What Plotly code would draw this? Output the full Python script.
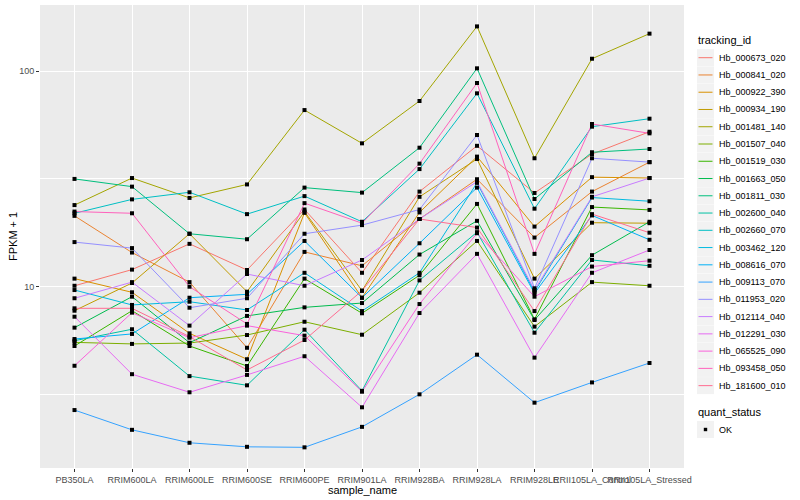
import plotly.graph_objects as go

samples = ["PB350LA", "RRIM600LA", "RRIM600LE", "RRIM600SE", "RRIM600PE", "RRIM901LA",
           "RRIM928BA", "RRIM928LA", "RRIM928LE", "RRII105LA_Control", "RRII105LA_Stressed"]

tracking_ids = ["Hb_000673_020", "Hb_000841_020", "Hb_000922_390", "Hb_000934_190",
                "Hb_001481_140", "Hb_001507_040", "Hb_001519_030", "Hb_001663_050",
                "Hb_001811_030", "Hb_002600_040", "Hb_002660_070", "Hb_003462_120",
                "Hb_008616_070", "Hb_009113_070", "Hb_011953_020", "Hb_012114_040",
                "Hb_012291_030", "Hb_065525_090", "Hb_093458_050", "Hb_181600_010"]

colors = ["#F8766D", "#EA8331", "#D89000", "#C09B00", "#A3A500", "#7CAE00", "#39B600",
          "#00BB4E", "#00BF7D", "#00C1A3", "#00BFC4", "#00BAE0", "#00B0F6", "#35A2FF",
          "#9590FF", "#C77CFF", "#E76BF3", "#FA62DB", "#FF62BC", "#FF6C91"]

# FPKM + 1 per sample (same order as samples)
hb_000673_020 = [10.1, 12.0, 15.8, 11.95, 22.8, 11.6, 27.6, 45.0, 27.2, 41.2, 52.3]
hb_000841_020 = [21.3, 14.4, 10.5, 5.21, 14.5, 12.5, 20.6, 31.5, 16.9, 27.6, 37.8]
hb_000922_390 = [10.9, 9.42, 6.08, 4.61, 22.0, 8.89, 22.1, 40.1, 19.0, 32.2, 31.9]
hb_000934_190 = [7.74, 10.4, 17.6, 9.48, 22.3, 9.58, 26.1, 39.1, 10.9, 19.8, 19.7]
hb_001481_140 = [23.9, 31.9, 25.8, 29.8, 65.9, 46.2, 72.6, 161.0, 39.4, 114.0, 149.0]
hb_001507_040 = [5.52, 5.43, 5.48, 5.97, 6.88, 5.99, 9.38, 16.3, 6.53, 10.5, 10.1]
hb_001519_030 = [5.31, 7.74, 5.31, 4.29, 10.9, 7.53, 11.3, 24.2, 7.06, 23.4, 22.7]
hb_001663_050 = [6.46, 8.99, 5.50, 7.32, 8.02, 8.40, 14.1, 20.2, 7.01, 14.0, 20.0]
hb_001811_030 = [31.6, 29.1, 17.6, 16.6, 28.8, 27.3, 44.1, 102.9, 25.5, 42.0, 43.5]
hb_002600_040 = [5.62, 6.35, 3.85, 3.49, 6.32, 3.29, 10.7, 17.9, 6.12, 13.3, 12.5]
hb_002660_070 = [21.9, 25.4, 27.4, 21.7, 26.3, 20.0, 35.1, 78.8, 23.0, 55.2, 60.1]
hb_003462_120 = [9.65, 8.23, 8.52, 7.80, 11.6, 7.71, 11.6, 30.3, 9.48, 25.9, 24.9]
hb_008616_070 = [5.72, 6.04, 8.89, 9.22, 16.3, 8.89, 15.9, 28.8, 9.32, 21.4, 16.5]
hb_009113_070 = [2.68, 2.17, 1.89, 1.81, 1.80, 2.24, 3.17, 4.84, 2.90, 3.60, 4.43]
hb_011953_020 = [16.1, 15.1, 7.99, 8.84, 17.6, 19.3, 22.8, 50.5, 9.83, 39.4, 37.8]
hb_012114_040 = [8.84, 10.5, 6.60, 11.45, 10.1, 13.3, 20.6, 30.7, 9.65, 26.1, 31.9]
hb_012291_030 = [7.26, 3.93, 3.24, 3.90, 4.76, 2.76, 7.55, 14.2, 4.69, 11.6, 14.8]
hb_065525_090 = [4.30, 7.58, 5.80, 6.60, 5.93, 3.26, 8.31, 17.7, 8.99, 12.4, 13.2]
hb_093458_050 = [22.3, 21.9, 10.0, 6.72, 24.4, 19.7, 37.2, 88.0, 14.2, 56.8, 51.4]
hb_181600_010 = [7.94, 7.94, 5.87, 4.11, 5.66, 9.58, 20.6, 18.8, 7.71, 21.7, 17.8]

series = [hb_000673_020, hb_000841_020, hb_000922_390, hb_000934_190, hb_001481_140,
          hb_001507_040, hb_001519_030, hb_001663_050, hb_001811_030, hb_002600_040,
          hb_002660_070, hb_003462_120, hb_008616_070, hb_009113_070, hb_011953_020,
          hb_012114_040, hb_012291_030, hb_065525_090, hb_093458_050, hb_181600_010]

quant_status = ["OK"]

FONT = "Liberation Sans, Arial, sans-serif"

fig = go.Figure()
for tid, col, vals in zip(tracking_ids, colors, series):
    fig.add_trace(go.Scatter(x=samples, y=vals, mode="lines", name=tid,
                             line=dict(color=col, width=1), showlegend=False))

all_x, all_y = [], []
for vals in series:
    all_x += samples
    all_y += vals
fig.add_trace(go.Scatter(x=all_x, y=all_y, mode="markers", name="OK", showlegend=False,
                         marker=dict(symbol="square", size=4, color="black")))

# plot area in pixels
L, R, T, B = 40, 684, 5, 468
def px(xp):
    return (xp - L) / (R - L)
def py(yp):
    return (B - yp) / (B - T)

shapes = []
annotations = []
# axis titles
annotations.append(dict(x=px(362), y=py(489.5), xref="paper", yref="paper", text="sample_name",
                        showarrow=False, xanchor="center", yanchor="middle",
                        font=dict(size=11, color="black", family=FONT)))
annotations.append(dict(x=px(13), y=py(236), xref="paper", yref="paper", text="FPKM + 1",
                        showarrow=False, xanchor="center", yanchor="middle", textangle=-90,
                        font=dict(size=11, color="black", family=FONT)))
# legend: tracking_id
annotations.append(dict(x=px(696), y=py(40), xref="paper", yref="paper", text="tracking_id",
                        showarrow=False, xanchor="left", yanchor="middle",
                        font=dict(size=11, color="black", family=FONT)))
step = 17.26
for i, (tid, col) in enumerate(zip(tracking_ids, colors)):
    cy = 57.7 + step * i
    shapes.append(dict(type="rect", xref="paper", yref="paper",
                       x0=px(697), x1=px(714), y0=py(cy - 8.5), y1=py(cy + 8.5),
                       fillcolor="#F2F2F2", line=dict(width=0), layer="above"))
    shapes.append(dict(type="line", xref="paper", yref="paper",
                       x0=px(698.5), x1=px(712.5), y0=py(cy), y1=py(cy),
                       line=dict(color=col, width=1), layer="above"))
    annotations.append(dict(x=px(716.5), y=py(cy), xref="paper", yref="paper", text=tid,
                            showarrow=False, xanchor="left", yanchor="middle",
                            font=dict(size=9, color="black", family=FONT)))
# legend: quant_status
annotations.append(dict(x=px(696), y=py(412), xref="paper", yref="paper", text="quant_status",
                        showarrow=False, xanchor="left", yanchor="middle",
                        font=dict(size=11, color="black", family=FONT)))
cy = 429.5
shapes.append(dict(type="rect", xref="paper", yref="paper",
                   x0=px(697), x1=px(714), y0=py(cy - 8.5), y1=py(cy + 8.5),
                   fillcolor="#F2F2F2", line=dict(width=0), layer="above"))
shapes.append(dict(type="rect", xref="paper", yref="paper",
                   x0=px(703.8), x1=px(707.2), y0=py(cy - 1.7), y1=py(cy + 1.7),
                   fillcolor="black", line=dict(width=0), layer="above"))
annotations.append(dict(x=px(716.5), y=py(cy), xref="paper", yref="paper", text=quant_status[0],
                        showarrow=False, xanchor="left", yanchor="middle",
                        font=dict(size=9, color="black", family=FONT)))

fig.update_layout(
    width=800, height=500,
    margin=dict(l=L, r=800 - R, t=T, b=500 - B, autoexpand=False),
    paper_bgcolor="white", plot_bgcolor="#EBEBEB",
    font=dict(family=FONT),
    showlegend=False,
    shapes=shapes, annotations=annotations,
    xaxis=dict(
        type="category", range=[-0.6, 10.6], tickangle=0, automargin=False,
        showgrid=True, gridcolor="white", gridwidth=1.1,
        ticks="outside", ticklen=3, tickcolor="#333333", tickwidth=1,
        tickfont=dict(size=9, color="#4D4D4D", family=FONT),
        zeroline=False, showline=False,
    ),
    yaxis=dict(
        type="log", range=[0.1595, 2.306], automargin=False,
        tickmode="array", tickvals=[10, 100], ticktext=["10", "100"],
        showgrid=True, gridcolor="white", gridwidth=1.1,
        minor=dict(tickmode="array", tickvals=[3.1623, 31.623], showgrid=True,
                   gridcolor="white", gridwidth=0.55, ticks=""),
        ticks="outside", ticklen=3, tickcolor="#333333", tickwidth=1,
        tickfont=dict(size=9, color="#4D4D4D", family=FONT),
        zeroline=False, showline=False,
    ),
)

fig.write_html("out.html", config={"displayModeBar": False},
               post_script="document.body.style.margin='0';")
